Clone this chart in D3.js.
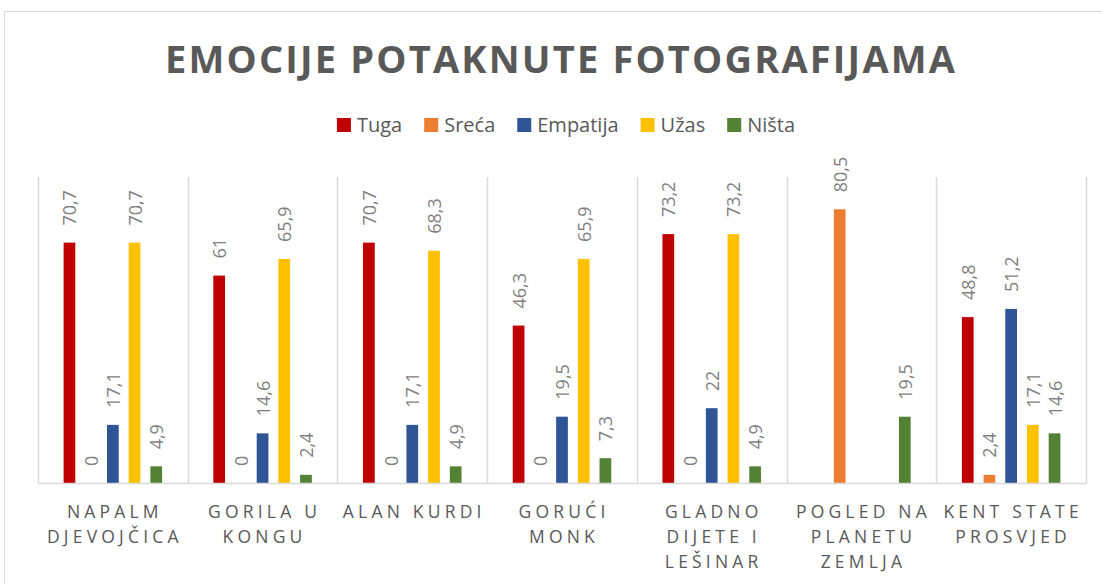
<!DOCTYPE html>
<html>
<head>
<meta charset="utf-8">
<script src="https://cdn.jsdelivr.net/npm/d3@7"></script>
<style>
    body { margin: 0; background: #fff; }
    svg { display: block; font-family: "Open Sans", sans-serif; }
</style>
</head>
<body>
<svg id="chart" width="1102" height="584"></svg>
<script>
const categories = [
    ["NAPALM", "DJEVOJČICA"],
    ["GORILA U", "KONGU"],
    ["ALAN KURDI"],
    ["GORUĆI", "MONK"],
    ["GLADNO", "DIJETE I", "LEŠINAR"],
    ["POGLED NA", "PLANETU", "ZEMLJA"],
    ["KENT STATE", "PROSVJED"]
]
const seriesNames = ["Tuga", "Sreća", "Empatija", "Užas", "Ništa"]
const seriesColors = ["#C00000", "#ED7D31", "#2F5597", "#FFC000", "#548235"]
const tuga = [70.7, 61, 70.7, 46.3, 73.2, null, 48.8]
const sreca = [0, 0, 0, 0, 0, 80.5, 2.4]
const empatija = [17.1, 14.6, 17.1, 19.5, 22, null, 51.2]
const uzas = [70.7, 65.9, 68.3, 65.9, 73.2, null, 17.1]
const nista = [4.9, 2.4, 4.9, 7.3, 4.9, 19.5, 14.6]
const yDomain = [0, 90]

const allSeries = [tuga, sreca, empatija, uzas, nista]
const svg = d3.select("#chart")
const plot = {left: 38, right: 1086, top: 177, bottom: 483}

// chart border
svg.append("rect")
    .attr("x", 4.5).attr("y", 11.5)
    .attr("width", 1120).attr("height", 620)
    .attr("fill", "none")
    .attr("stroke", "#d9d9d9")

// title
let title = svg.append("text")
    .text("EMOCIJE POTAKNUTE FOTOGRAFIJAMA")
    .attr("y", 73)
    .style("font-size", "38px")
    .style("font-weight", "bold")
    .style("fill", "#595959")
let titleText = title.text(),
    tw = title.node().getComputedTextLength(),
    ls = (790 - tw) / (titleText.length - 1)
title.style("letter-spacing", `${ls}px`).attr("x", 165)

let x0 = d3.scaleBand()
    .domain(d3.range(categories.length))
    .range([plot.left, plot.right])
let x1 = d3.scaleBand()
    .domain(seriesNames)
    .range([0, x0.bandwidth()])
    .paddingInner(0.46)
    .paddingOuter(1.18)
let y = d3.scaleLinear()
    .domain(yDomain)
    .range([plot.bottom, plot.top])

// vertical separators between categories
svg.append("g")
    .selectAll("line")
    .data(d3.range(categories.length + 1))
    .join("line")
    .attr("x1", i => Math.round(plot.left + i * x0.step()) + 0.5)
    .attr("x2", i => Math.round(plot.left + i * x0.step()) + 0.5)
    .attr("y1", plot.top)
    .attr("y2", plot.bottom)
    .attr("stroke", "#d9d9d9")
    .attr("stroke-width", 1.5)

// bars
let groups = svg.append("g")
    .selectAll("g")
    .data(categories)
    .join("g")
    .attr("transform", (d, i) => `translate(${x0(i)},0)`)

groups.each(function(cat, ci) {
    let g = d3.select(this)
    let rows = seriesNames.map((name, si) => ({name, color: seriesColors[si], value: allSeries[si][ci]}))
        .filter(r => r.value !== null)

    g.selectAll("rect")
        .data(rows)
        .join("rect")
        .attr("x", r => x1(r.name))
        .attr("width", x1.bandwidth())
        .attr("y", r => y(r.value))
        .attr("height", r => plot.bottom - y(r.value))
        .attr("fill", r => r.color)

    g.selectAll("text")
        .data(rows)
        .join("text")
        .text(r => String(r.value).replace(".", ","))
        .attr("transform", r => `translate(${x1(r.name) + x1.bandwidth() / 2 + 7},${y(r.value) - 17}) rotate(-90)`)
        .style("font-size", "18px")
        .style("fill", "#7f7f7f")
})

// baseline
svg.append("line")
    .attr("x1", plot.left).attr("x2", plot.right + 1)
    .attr("y1", plot.bottom + 0.5).attr("y2", plot.bottom + 0.5)
    .attr("stroke", "#d9d9d9")
    .attr("stroke-width", 1.5)

// category labels
svg.append("g")
    .selectAll("text")
    .data(categories)
    .join("text")
    .attr("text-anchor", "middle")
    .style("font-size", "17.5px")
    .style("letter-spacing", "4.2px")
    .style("fill", "#595959")
    .each(function(lines, i) {
        d3.select(this).selectAll("tspan")
            .data(lines)
            .join("tspan")
            .attr("x", x0(i) + x0.bandwidth() / 2 + 2)
            .attr("y", (d, k) => 518 + k * 25)
            .text(d => d)
    })

// legend
let legend = svg.append("g")
let cursor = 0
seriesNames.forEach((name, i) => {
    let item = legend.append("g").attr("transform", `translate(${cursor},0)`)
    item.append("rect")
        .attr("x", 0).attr("y", -14)
        .attr("width", 14).attr("height", 14)
        .attr("fill", seriesColors[i])
    let t = item.append("text")
        .text(name)
        .attr("x", 20).attr("y", 0)
        .style("font-size", "20px")
        .style("fill", "#595959")
    cursor += 20 + t.node().getComputedTextLength() + 22
})
legend.attr("transform", `translate(${566 - (cursor - 22) / 2},132)`)
</script>
</body>
</html>
